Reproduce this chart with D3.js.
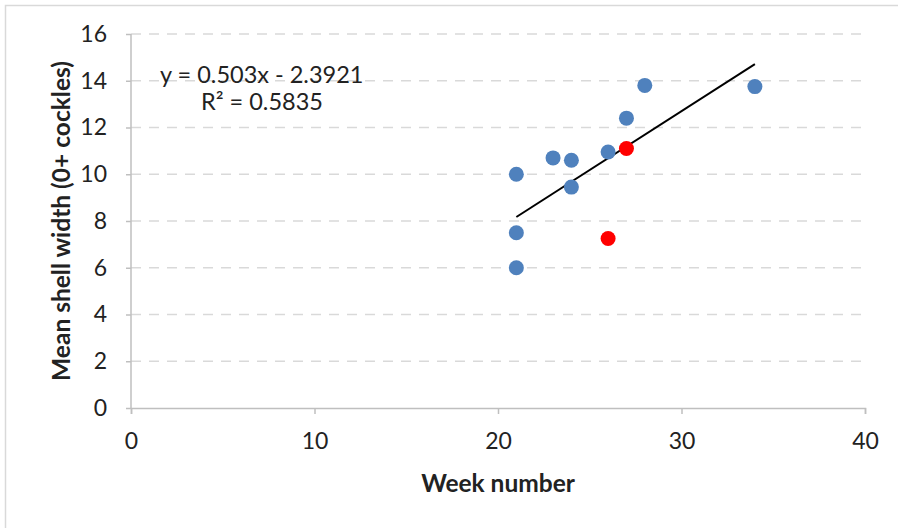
<!DOCTYPE html>
<html>
<head>
<meta charset="utf-8">
<script src="https://cdn.jsdelivr.net/npm/d3@7"></script>
<style>
  body { margin: 0; background: #fff; }
  text { font-family: Lato, "Open Sans", sans-serif; fill: #222; }
</style>
</head>
<body>
<div id="chart"></div>
<script>
// measured weeks / mean shell widths
var weeks = [21, 21, 21, 23, 24, 24, 26, 27, 28, 34];
var widths = [10.0, 7.5, 6.0, 10.7, 10.6, 9.45, 10.95, 12.4, 13.8, 13.75];
// highlighted points
var redWeeks = [26, 27];
var redWidths = [7.25, 11.1];
var xTicks = [0, 10, 20, 30, 40];
var yTicks = [0, 2, 4, 6, 8, 10, 12, 14, 16];
var slope = 0.503, intercept = -2.3921;

var W = 898, H = 528;
var margin = {top: 34, right: 33, bottom: 120, left: 131};
var width = W - margin.left - margin.right;
var height = H - margin.top - margin.bottom;

var svg = d3.select("#chart").append("svg")
    .attr("width", W)
    .attr("height", H);

svg.append("rect")
    .attr("x", 5.5).attr("y", 5.5)
    .attr("width", W + 10).attr("height", H + 10)
    .attr("fill", "none")
    .attr("stroke", "#d9d9d9")
    .attr("stroke-width", 1.5);

var g = svg.append("g")
    .attr("transform", "translate(" + margin.left + "," + margin.top + ")");

var x = d3.scaleLinear().domain([0, 40]).range([0, width]);
var y = d3.scaleLinear().domain([0, 16]).range([height, 0]);

// grid
g.selectAll(".grid")
    .data(yTicks.filter(function(d) { return d > 0; }))
    .enter().append("line")
    .attr("class", "grid")
    .attr("x1", 0).attr("x2", width)
    .attr("y1", function(d) { return y(d); })
    .attr("y2", function(d) { return y(d); })
    .attr("stroke", "#d9d9d9")
    .attr("stroke-width", 1.5)
    .attr("stroke-dasharray", "10,8");

var xAxis = g.append("g")
    .attr("transform", "translate(0," + height + ")")
    .call(d3.axisBottom(x).tickValues(xTicks).tickSize(6).tickPadding(19));
var yAxis = g.append("g")
    .call(d3.axisLeft(y).tickValues(yTicks).tickSize(5).tickPadding(19));

[xAxis, yAxis].forEach(function(a) {
    a.selectAll("path, line").attr("stroke", "#bfbfbf").attr("stroke-width", 1.5);
    a.selectAll("text").attr("font-size", 23).attr("fill", "#222")
        .style("font-family", "Lato, 'Open Sans', sans-serif");
});
yAxis.select(".domain").attr("d", "M0," + height + "V0");

// trendline
var tx = d3.extent(weeks.concat(redWeeks));
g.append("line")
    .attr("x1", x(tx[0])).attr("y1", y(slope * tx[0] + intercept))
    .attr("x2", x(tx[1])).attr("y2", y(slope * tx[1] + intercept))
    .attr("stroke", "#000")
    .attr("stroke-width", 2);

g.selectAll(".pt")
    .data(d3.zip(weeks, widths))
    .enter().append("circle")
    .attr("class", "pt")
    .attr("cx", function(d) { return x(d[0]); })
    .attr("cy", function(d) { return y(d[1]); })
    .attr("r", 7.5)
    .attr("fill", "#4f81bd");

g.selectAll(".red")
    .data(d3.zip(redWeeks, redWidths))
    .enter().append("circle")
    .attr("class", "red")
    .attr("cx", function(d) { return x(d[0]); })
    .attr("cy", function(d) { return y(d[1]); })
    .attr("r", 7.5)
    .attr("fill", "#ff0000");

g.append("text")
    .attr("x", 29).attr("y", 49)
    .attr("font-size", 23.5)
    .text("y = 0.503x - 2.3921");
g.append("text")
    .attr("x", 70).attr("y", 76)
    .attr("font-size", 23.5)
    .text("R² = 0.5835");

svg.append("text")
    .attr("x", margin.left + width / 2).attr("y", 492)
    .attr("text-anchor", "middle")
    .attr("font-size", 24.5)
    .attr("font-weight", "bold")
    .text("Week number");

svg.append("text")
    .attr("transform", "translate(70," + (margin.top + height / 2) + ") rotate(-90)")
    .attr("text-anchor", "middle")
    .attr("font-size", 24.5)
    .attr("font-weight", "bold")
    .text("Mean shell width (0+ cockles)");
</script>
</body>
</html>
